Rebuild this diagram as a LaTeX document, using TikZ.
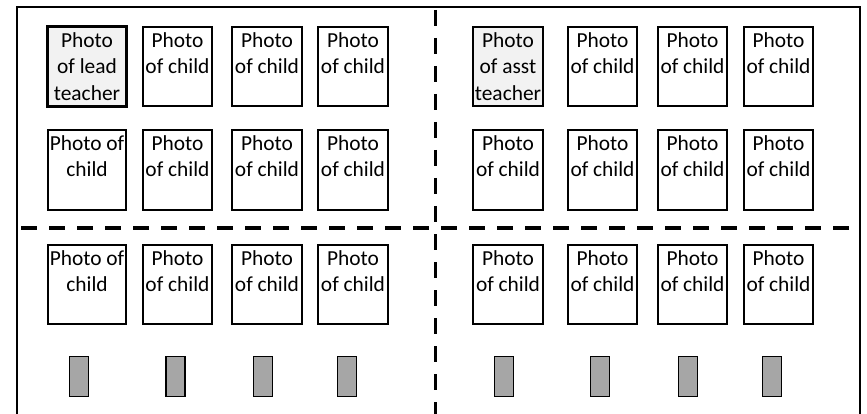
\documentclass[tikz,border=0pt]{standalone}
\usepackage{fontspec}
\setmainfont{Carlito}
\begin{document}
\begin{tikzpicture}[x=1pt,y=-1pt,
  photo/.style={draw=black, line width=1.2pt, fill=white, rectangle, inner sep=0pt},
  teacher/.style={photo, fill=black!5},
  lbl/.style={inner sep=0pt, align=center, font=\fontsize{21.4}{26.5}\selectfont, anchor=north},
  seat/.style={draw=black, line width=1.8pt, fill=black!35, rectangle, inner sep=0pt, minimum width=19pt, minimum height=40pt},
  divider/.style={line width=3.6pt, dash pattern=on 16pt off 12pt}]
\useasboundingbox (0,0) rectangle (867,414);
% outer frame
\coordinate (fbl) at (17,416);
\coordinate (ftl) at (17,7);
\coordinate (ftr) at (860,7);
\coordinate (fbr) at (860,416);
\draw[line width=1.6pt] (fbl) -- (ftl) -- (ftr) -- (fbr);
% dividers
\coordinate (vt) at (435.5,10);
\coordinate (vb) at (435.5,414);
\coordinate (hl) at (21,228);
\coordinate (hr) at (860,228);
\draw[divider] (vt) -- (vb);
\draw[divider] (hl) -- (hr);
% row 1
\foreach \xa/\xb/\nm/\txt/\sty in {48/126/a/{Photo\\of lead\\teacher}/teacher,
    143/212/b/{Photo\\of child}/photo, 232/302/c/{Photo\\of child}/photo, 318/388/d/{Photo\\of child}/photo,
    473/543/e/{Photo\\of asst\\teacher}/teacher,
    568/637/f/{Photo\\of child}/photo, 658/727/g/{Photo\\of child}/photo, 744/813/h/{Photo\\of child}/photo}{
  \node[\sty, minimum width={\xb-\xa}, minimum height=79] (p\nm1) at ({(\xa+\xb)/2},66.5) {};
  \node[lbl] (t\nm1) at ([yshift=-6pt]p\nm1.north) {\txt};
}
\draw[line width=2.4pt] (pa1.north west) rectangle (pa1.south east);
% row 2
\foreach \xa/\xb/\nm/\txt in {48/126/a/{Photo of\\child},
    143/212/b/{Photo\\of child}, 232/302/c/{Photo\\of child}, 318/388/d/{Photo\\of child},
    473/543/e/{Photo\\of child},
    568/637/f/{Photo\\of child}, 658/727/g/{Photo\\of child}, 744/813/h/{Photo\\of child}}{
  \node[photo, minimum width={\xb-\xa}, minimum height=80] (p\nm2) at ({(\xa+\xb)/2},170) {};
  \node[lbl] (t\nm2) at ([yshift=-6pt]p\nm2.north) {\txt};
}
% row 3
\foreach \xa/\xb/\nm/\txt in {48/126/a/{Photo of\\child},
    143/212/b/{Photo\\of child}, 232/302/c/{Photo\\of child}, 318/388/d/{Photo\\of child},
    473/543/e/{Photo\\of child},
    568/637/f/{Photo\\of child}, 658/727/g/{Photo\\of child}, 744/813/h/{Photo\\of child}}{
  \node[photo, minimum width={\xb-\xa}, minimum height=79] (p\nm3) at ({(\xa+\xb)/2},284.5) {};
  \node[lbl] (t\nm3) at ([yshift=-6pt]p\nm3.north) {\txt};
}
% seats
\foreach \cx/\nm in {79/a,175.5/b,263/c,347/d,504/e,600/f,688/g,772/h}{
  \node[seat] (s\nm) at (\cx,376.5) {};
}
\end{tikzpicture}
\end{document}
